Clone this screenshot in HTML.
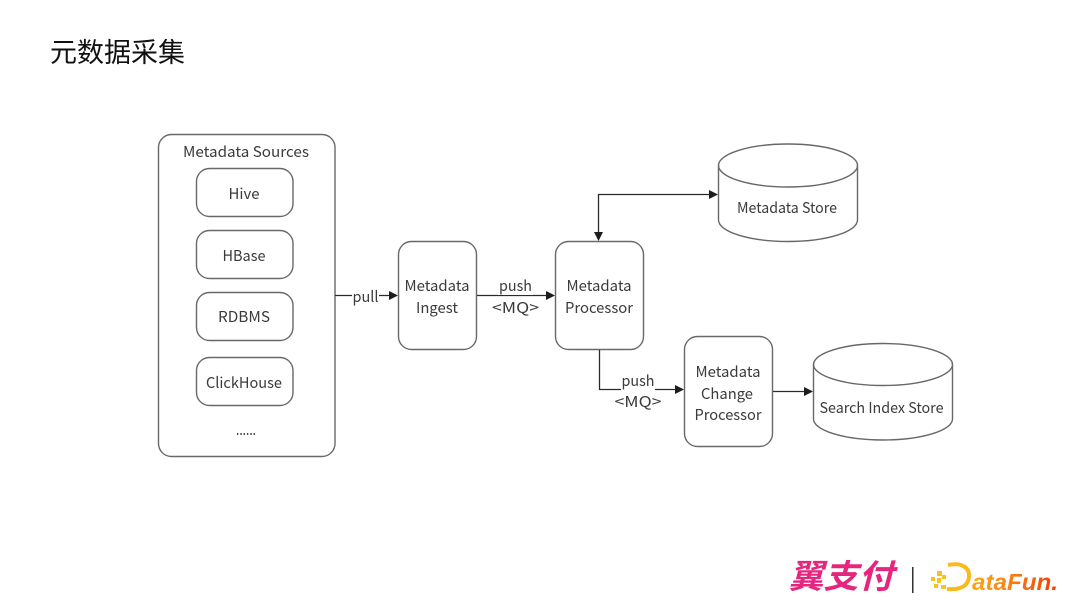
<!DOCTYPE html>
<html><head><meta charset="utf-8">
<style>
html,body{margin:0;padding:0;background:#fff;width:1080px;height:608px;overflow:hidden}
svg{display:block;position:absolute;left:0;top:0}
text{font-family:"Noto Sans CJK SC","Liberation Sans",sans-serif;font-size:15px;fill:#3a3a3a;text-anchor:middle}
.b{fill:#fff;stroke:#686868;stroke-width:1.4}
.n{fill:none;stroke:#686868;stroke-width:1.4}
.l{fill:none;stroke:#2c2c2c;stroke-width:1.3}
.a{fill:#1c1c1c;stroke:none}
</style></head><body>
<svg width="1080" height="608" viewBox="0 0 1080 608">
<defs>
<linearGradient id="g" gradientUnits="userSpaceOnUse" x1="965" x2="1058" y1="0" y2="0"><stop offset="0" stop-color="#fbb01a"/><stop offset="0.5" stop-color="#f77f14"/><stop offset="1" stop-color="#ee3f0d"/></linearGradient>
<filter id="s" x="-2%" y="-2%" width="104%" height="104%"><feGaussianBlur stdDeviation="0.35"/></filter>
</defs>
<text x="50" y="62" style="font-family:'Noto Sans CJK SC','Liberation Sans',sans-serif;font-size:27px;fill:#111;text-anchor:start">元数据采集</text>

<g filter="url(#s)">
<rect class="b" x="158.500" y="134.500" width="176.500" height="322" rx="13"/>
<text x="246" y="157" textLength="126" lengthAdjust="spacingAndGlyphs">Metadata Sources</text>
<rect class="b" x="196.500" y="168.500" width="96.500" height="48" rx="13"/>
<text x="244" y="199" textLength="31" lengthAdjust="spacingAndGlyphs">Hive</text>
<rect class="b" x="196.500" y="230.500" width="96.500" height="48" rx="13"/>
<text x="244" y="261" textLength="43" lengthAdjust="spacingAndGlyphs">HBase</text>
<rect class="b" x="196.500" y="292.500" width="96.500" height="48" rx="13"/>
<text x="244" y="322" textLength="52" lengthAdjust="spacingAndGlyphs">RDBMS</text>
<rect class="b" x="196.500" y="357.500" width="96.500" height="48" rx="13"/>
<text x="244" y="388" textLength="76" lengthAdjust="spacingAndGlyphs">ClickHouse</text>
<text x="246" y="435" textLength="20" lengthAdjust="spacingAndGlyphs">......</text>

<rect class="b" x="398.500" y="241.500" width="78" height="108" rx="13"/>
<text x="437" y="291" textLength="65" lengthAdjust="spacingAndGlyphs">Metadata</text>
<text x="437" y="313" textLength="42" lengthAdjust="spacingAndGlyphs">Ingest</text>

<rect class="b" x="555.500" y="241.500" width="88" height="108" rx="13"/>
<text x="599" y="291" textLength="65" lengthAdjust="spacingAndGlyphs">Metadata</text>
<text x="599" y="313" textLength="68" lengthAdjust="spacingAndGlyphs">Processor</text>

<rect class="b" x="684.500" y="336.500" width="88" height="110" rx="13"/>
<text x="728" y="377" textLength="65" lengthAdjust="spacingAndGlyphs">Metadata</text>
<text x="727" y="399" textLength="52" lengthAdjust="spacingAndGlyphs">Change</text>
<text x="728" y="420" textLength="67" lengthAdjust="spacingAndGlyphs">Processor</text>

<path class="b" d="M718.500 165.500A69.500 21.500 0 0 1 857.500 165.500V220A69.500 21.500 0 0 1 718.500 220Z"/>
<path class="n" d="M718.500 165.500A69.500 21.500 0 0 0 857.500 165.500"/>
<text x="787" y="213" textLength="100" lengthAdjust="spacingAndGlyphs">Metadata Store</text>

<path class="b" d="M813.500 364.500A69.500 21 0 0 1 952.500 364.500V419A69.500 21 0 0 1 813.500 419Z"/>
<path class="n" d="M813.500 364.500A69.500 21 0 0 0 952.500 364.500"/>
<text x="881.500" y="413" textLength="124" lengthAdjust="spacingAndGlyphs">Search Index Store</text>

<path class="l" d="M335 295.500H390"/>
<path class="a" d="M398 295.500l-9-4.500v9z"/>
<rect x="352" y="288" width="27" height="16" fill="#fff"/>
<text x="365.500" y="302" textLength="26" lengthAdjust="spacingAndGlyphs">pull</text>

<path class="l" d="M477 295.500H547"/>
<path class="a" d="M555 295.500l-9-4.500v9z"/>
<rect x="498" y="290" width="35" height="5" fill="#fff"/>
<text x="515.500" y="291" textLength="33" lengthAdjust="spacingAndGlyphs">push</text>
<text x="515.500" y="313" textLength="47" lengthAdjust="spacingAndGlyphs">&lt;MQ&gt;</text>

<path class="l" d="M710 194.500H598.500V233"/>
<path class="a" d="M718 194.500l-9-4.500v9z"/>
<path class="a" d="M598.500 241l-4.500-9h9z"/>

<path class="l" d="M599.500 350V389.500H676"/>
<path class="a" d="M684 389.500l-9-4.500v9z"/>
<rect x="621" y="382" width="34" height="9" fill="#fff"/>
<text x="638" y="386" textLength="33" lengthAdjust="spacingAndGlyphs">push</text>
<text x="638" y="407" textLength="47" lengthAdjust="spacingAndGlyphs">&lt;MQ&gt;</text>

<path class="l" d="M773 391.500H805"/>
<path class="a" d="M813 391.500l-9-4.500v9z"/>

<text x="841" y="588" style="font-family:'Noto Sans CJK SC',sans-serif;font-size:33px;font-weight:700;font-style:italic;fill:#e5277f" textLength="105" lengthAdjust="spacingAndGlyphs">翼支付</text>
<rect x="912" y="567" width="1.500" height="26" fill="#333"/>
<g fill="#f8c21c">
<rect x="931" y="577" width="4" height="4"/><rect x="937" y="571" width="5" height="5"/>
<rect x="937" y="578" width="4" height="5"/><rect x="942" y="575" width="4" height="4"/>
<rect x="934" y="584" width="4" height="4"/><rect x="941" y="585" width="5" height="4"/>
</g>
<path d="M948 565C962 562 970 568 969 577C968 586 961 590 947 589" fill="none" stroke="#fdb91a" stroke-width="4"/>
<text x="1015" y="590" style="font-family:'Liberation Sans',sans-serif;font-size:23px;font-weight:700;font-style:italic;fill:url(#g)" textLength="86" lengthAdjust="spacingAndGlyphs">ataFun.</text>
</g>
</svg>
</body></html>
